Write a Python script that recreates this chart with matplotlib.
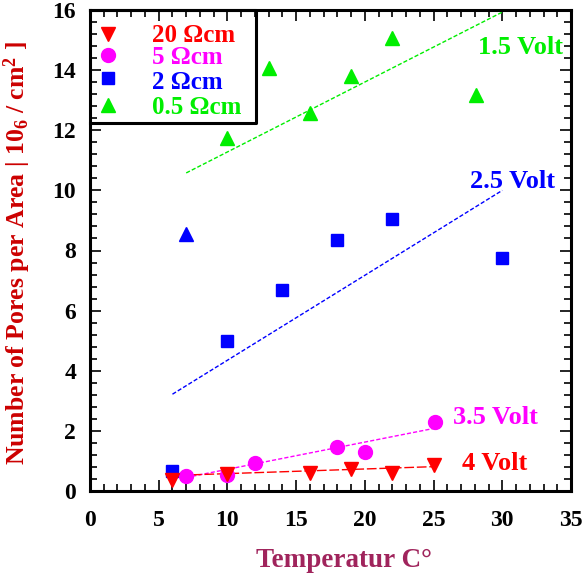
import matplotlib
matplotlib.use("Agg")
import matplotlib.pyplot as plt
from matplotlib.ticker import MultipleLocator

plt.rcParams['font.family'] = ['Liberation Serif', 'DejaVu Serif']
plt.rcParams['font.weight'] = 'bold'
plt.rcParams['mathtext.default'] = 'regular'

# 20 Ohm cm, 4 Volt
t_20 = [6, 10, 16, 19, 22, 25]
n_20 = [0.37, 0.55, 0.59, 0.72, 0.61, 0.86]
fit_20_x = [5.6, 25]
fit_20_y = [0.51, 0.81]

# 5 Ohm cm, 3.5 Volt
t_5 = [7, 10, 12, 18, 20, 25.1]
n_5 = [0.51, 0.53, 0.94, 1.47, 1.31, 2.28]
fit_5_x = [7, 25]
fit_5_y = [0.45, 2.08]

# 2 Ohm cm, 2.5 Volt
t_2 = [6, 10, 14, 18, 22, 30]
n_2 = [0.66, 4.99, 6.69, 8.35, 9.05, 7.75]
t_2_tri = [7]
n_2_tri = [8.55]
fit_2_x = [6, 30]
fit_2_y = [3.22, 10.0]

# 0.5 Ohm cm, 1.5 Volt
t_05 = [10, 13, 16, 19, 22, 28.1]
n_05 = [11.74, 14.07, 12.57, 13.8, 15.07, 13.17]
fit_05_x = [7, 30]
fit_05_y = [10.58, 15.93]

red = '#ff0000'
mag = '#ff00ff'
blue = '#0000ff'
green = '#00ee00'
B = 'bold'

fig = plt.figure(figsize=(5.86, 5.78), dpi=100, facecolor='white')
ax = fig.add_axes([90/586, 1-491/578, 481/586, 481/578])

ax.plot(fit_05_x, fit_05_y, color=green, lw=1, dashes=(3, 1.5))
ax.plot(fit_2_x, fit_2_y, color=blue, lw=1, dashes=(3, 1.5))
ax.plot(fit_5_x, fit_5_y, color=mag, lw=1, dashes=(3, 1.5))
ax.plot(fit_20_x, fit_20_y, color=red, lw=1, dashes=(7, 2))

ax.plot(t_05, n_05, '^', color=green, ms=10, mec=green, ls='none')
ax.plot(t_2, n_2, 's', color=blue, ms=8.5, mec=blue, ls='none')
ax.plot(t_2_tri, n_2_tri, '^', color=blue, ms=10, mec=blue, ls='none')
ax.plot(t_5, n_5, 'o', color=mag, ms=10, mec=mag, ls='none')
ax.plot(t_20, n_20, 'v', color=red, ms=10, mec=red, ls='none')

fs = 19
ax.text(34.4, 14.75, '1.5 Volt', color=green, fontsize=fs, fontweight=B, ha='right', va='center')
ax.text(33.8, 10.3, '2.5 Volt', color=blue, fontsize=fs, fontweight=B, ha='right', va='center')
ax.text(26.4, 2.45, '3.5 Volt', color=mag, fontsize=fs, fontweight=B, ha='left', va='center')
ax.text(27.1, 0.92, '4 Volt', color=red, fontsize=fs, fontweight=B, ha='left', va='center')

# legend box
lx = 1.3
tx = 4.5
ax.plot([lx], [15.2], 'v', color=red, ms=10, ls='none')
ax.plot([lx], [14.5], 'o', color=mag, ms=10, ls='none')
ax.plot([lx], [13.75], 's', color=blue, ms=8.5, ls='none')
ax.plot([lx], [12.85], '^', color=green, ms=10, ls='none')
lfs = 18
ax.text(tx, 15.15, '20 \u03a9cm', color=red, fontsize=lfs, fontweight=B, va='center')
ax.text(tx, 14.42, '5 \u03a9cm', color=mag, fontsize=lfs, fontweight=B, va='center')
ax.text(tx, 13.6, '2 \u03a9cm', color=blue, fontsize=lfs, fontweight=B, va='center')
ax.text(tx, 12.75, '0.5 \u03a9cm', color=green, fontsize=lfs, fontweight=B, va='center')
ax.plot([0, 12.1, 12.1, 0], [12.25, 12.25, 16, 16], color='black', lw=2.2, clip_on=False)

ax.set_xlim(0, 35)
ax.set_ylim(0, 16)
ax.xaxis.set_major_locator(MultipleLocator(5))
ax.xaxis.set_minor_locator(MultipleLocator(1))
ax.yaxis.set_major_locator(MultipleLocator(2))
ax.yaxis.set_minor_locator(MultipleLocator(0.4))
ax.tick_params(which='both', direction='in', top=True, right=True, width=1.2,
               labelsize=17)
ax.tick_params(axis='x', pad=14)
ax.tick_params(axis='y', pad=10)
ax.tick_params(which='major', length=8)
ax.tick_params(which='minor', length=5)
for lab in ax.get_xticklabels() + ax.get_yticklabels():
    lab.set_fontweight(B)
for s in ax.spines.values():
    s.set_linewidth(2.2)

ax.set_xlabel('Temperatur C\u00b0', color='#a0245c', fontsize=19.5, fontweight=B)
ax.xaxis.set_label_coords((344 - 90)/481, -57/481)
ax.set_ylabel('Number of Pores per Area | 10$_6$ / cm$^2$ ]', color='#cc0000',
              fontsize=18.5, fontweight=B)
ax.yaxis.set_label_coords(-57/481, 0.495)

fig.savefig('out.png', dpi=100, facecolor='white')
